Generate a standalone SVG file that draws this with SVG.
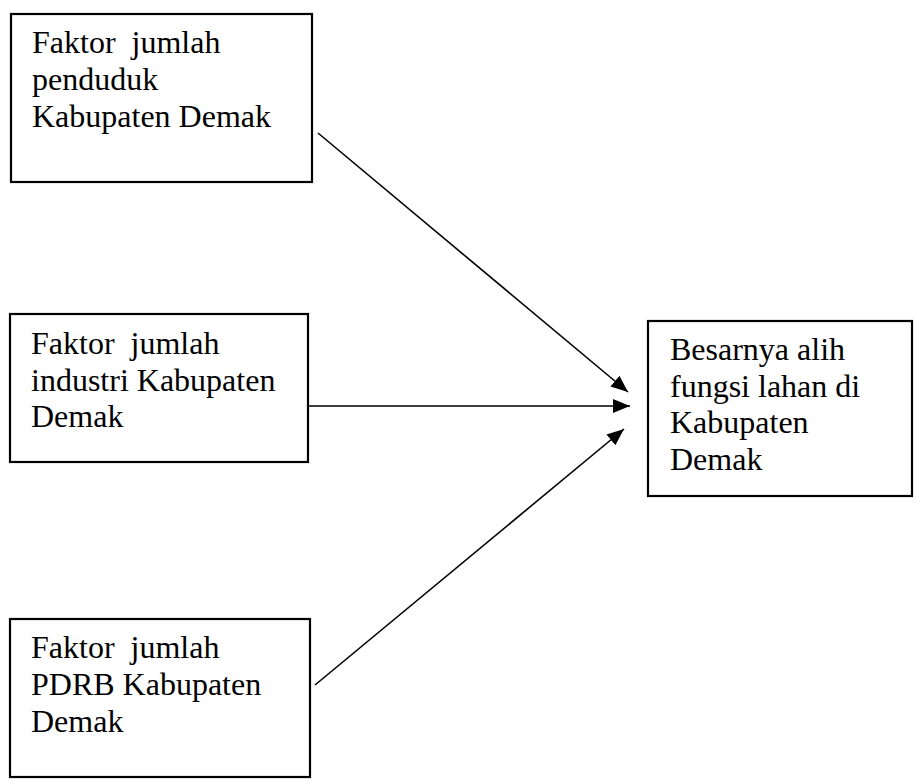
<svg xmlns="http://www.w3.org/2000/svg" width="919" height="780" viewBox="0 0 919 780">
<style>
.box{fill:#fff;stroke:#000;stroke-width:2.2}
.t{font-family:"Liberation Serif","Times New Roman",serif;font-size:32px;fill:#000;white-space:pre}
.c{stroke:#000;stroke-width:1.6;fill:none}
</style>
<defs>
<marker id="ah" markerUnits="userSpaceOnUse" markerWidth="18" markerHeight="14" refX="17" refY="7" orient="auto">
<path d="M0,0 L17,7 L0,14 Z" fill="#000"/>
</marker>
</defs>
<rect x="0" y="0" width="919" height="780" fill="#fff"/>
<g id="n1">
<rect class="box" x="11" y="14" width="301" height="168"/>
<text class="t" x="32" y="53" xml:space="preserve">Faktor  jumlah</text>
<text class="t" x="32" y="90">penduduk</text>
<text class="t" x="32" y="127">Kabupaten Demak</text>
</g>
<g id="n2">
<rect class="box" x="10" y="314" width="298" height="148"/>
<text class="t" x="31" y="354" xml:space="preserve">Faktor  jumlah</text>
<text class="t" x="31" y="391">industri Kabupaten</text>
<text class="t" x="31" y="427">Demak</text>
</g>
<g id="n3">
<rect class="box" x="10" y="619" width="300" height="158"/>
<text class="t" x="31" y="658" xml:space="preserve">Faktor  jumlah</text>
<text class="t" x="31" y="695">PDRB Kabupaten</text>
<text class="t" x="31" y="732">Demak</text>
</g>
<g id="n4">
<rect class="box" x="648" y="321" width="264" height="175"/>
<text class="t" x="670" y="360">Besarnya alih</text>
<text class="t" x="670" y="397">fungsi lahan di</text>
<text class="t" x="670" y="433">Kabupaten</text>
<text class="t" x="670" y="470">Demak</text>
</g>
<g id="connectors">
<line class="c" x1="318" y1="133" x2="628" y2="392" marker-end="url(#ah)"/>
<line class="c" x1="307" y1="406" x2="630" y2="406" marker-end="url(#ah)"/>
<line class="c" x1="315" y1="685" x2="624" y2="429" marker-end="url(#ah)"/>
</g>
</svg>
